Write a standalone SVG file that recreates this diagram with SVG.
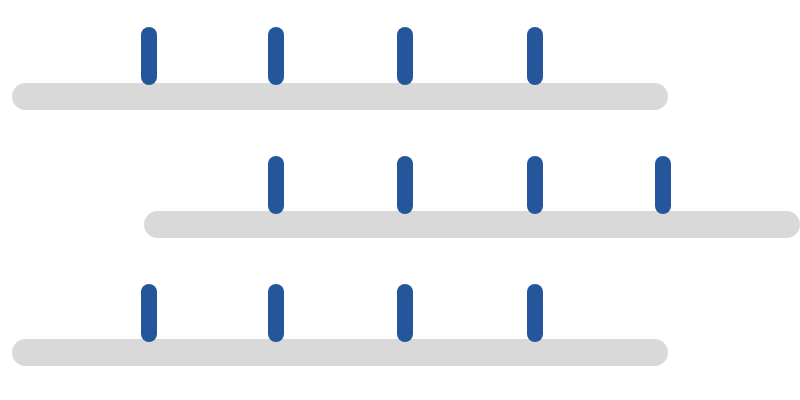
<svg xmlns="http://www.w3.org/2000/svg" width="800" height="400" viewBox="0 0 800 400">
<style>.bar{fill:#d9d9d9}.tick{fill:#23569b}</style>
<rect width="800" height="400" fill="#fff"/>
<rect class="bar" x="12" y="83" width="656" height="27" rx="13.5"/>
<rect class="bar" x="144" y="211" width="656" height="27" rx="13.5"/>
<rect class="bar" x="12" y="339" width="656" height="27" rx="13.5"/>
<g class="tick">
<rect x="141" y="27" width="16" height="58" rx="8"/>
<rect x="268" y="27" width="16" height="58" rx="8"/>
<rect x="397" y="27" width="16" height="58" rx="8"/>
<rect x="527" y="27" width="16" height="58" rx="8"/>
<rect x="268" y="156" width="16" height="58" rx="8"/>
<rect x="397" y="156" width="16" height="58" rx="8"/>
<rect x="527" y="156" width="16" height="58" rx="8"/>
<rect x="655" y="156" width="16" height="58" rx="8"/>
<rect x="141" y="284" width="16" height="58" rx="8"/>
<rect x="268" y="284" width="16" height="58" rx="8"/>
<rect x="397" y="284" width="16" height="58" rx="8"/>
<rect x="527" y="284" width="16" height="58" rx="8"/>
</g>
</svg>
